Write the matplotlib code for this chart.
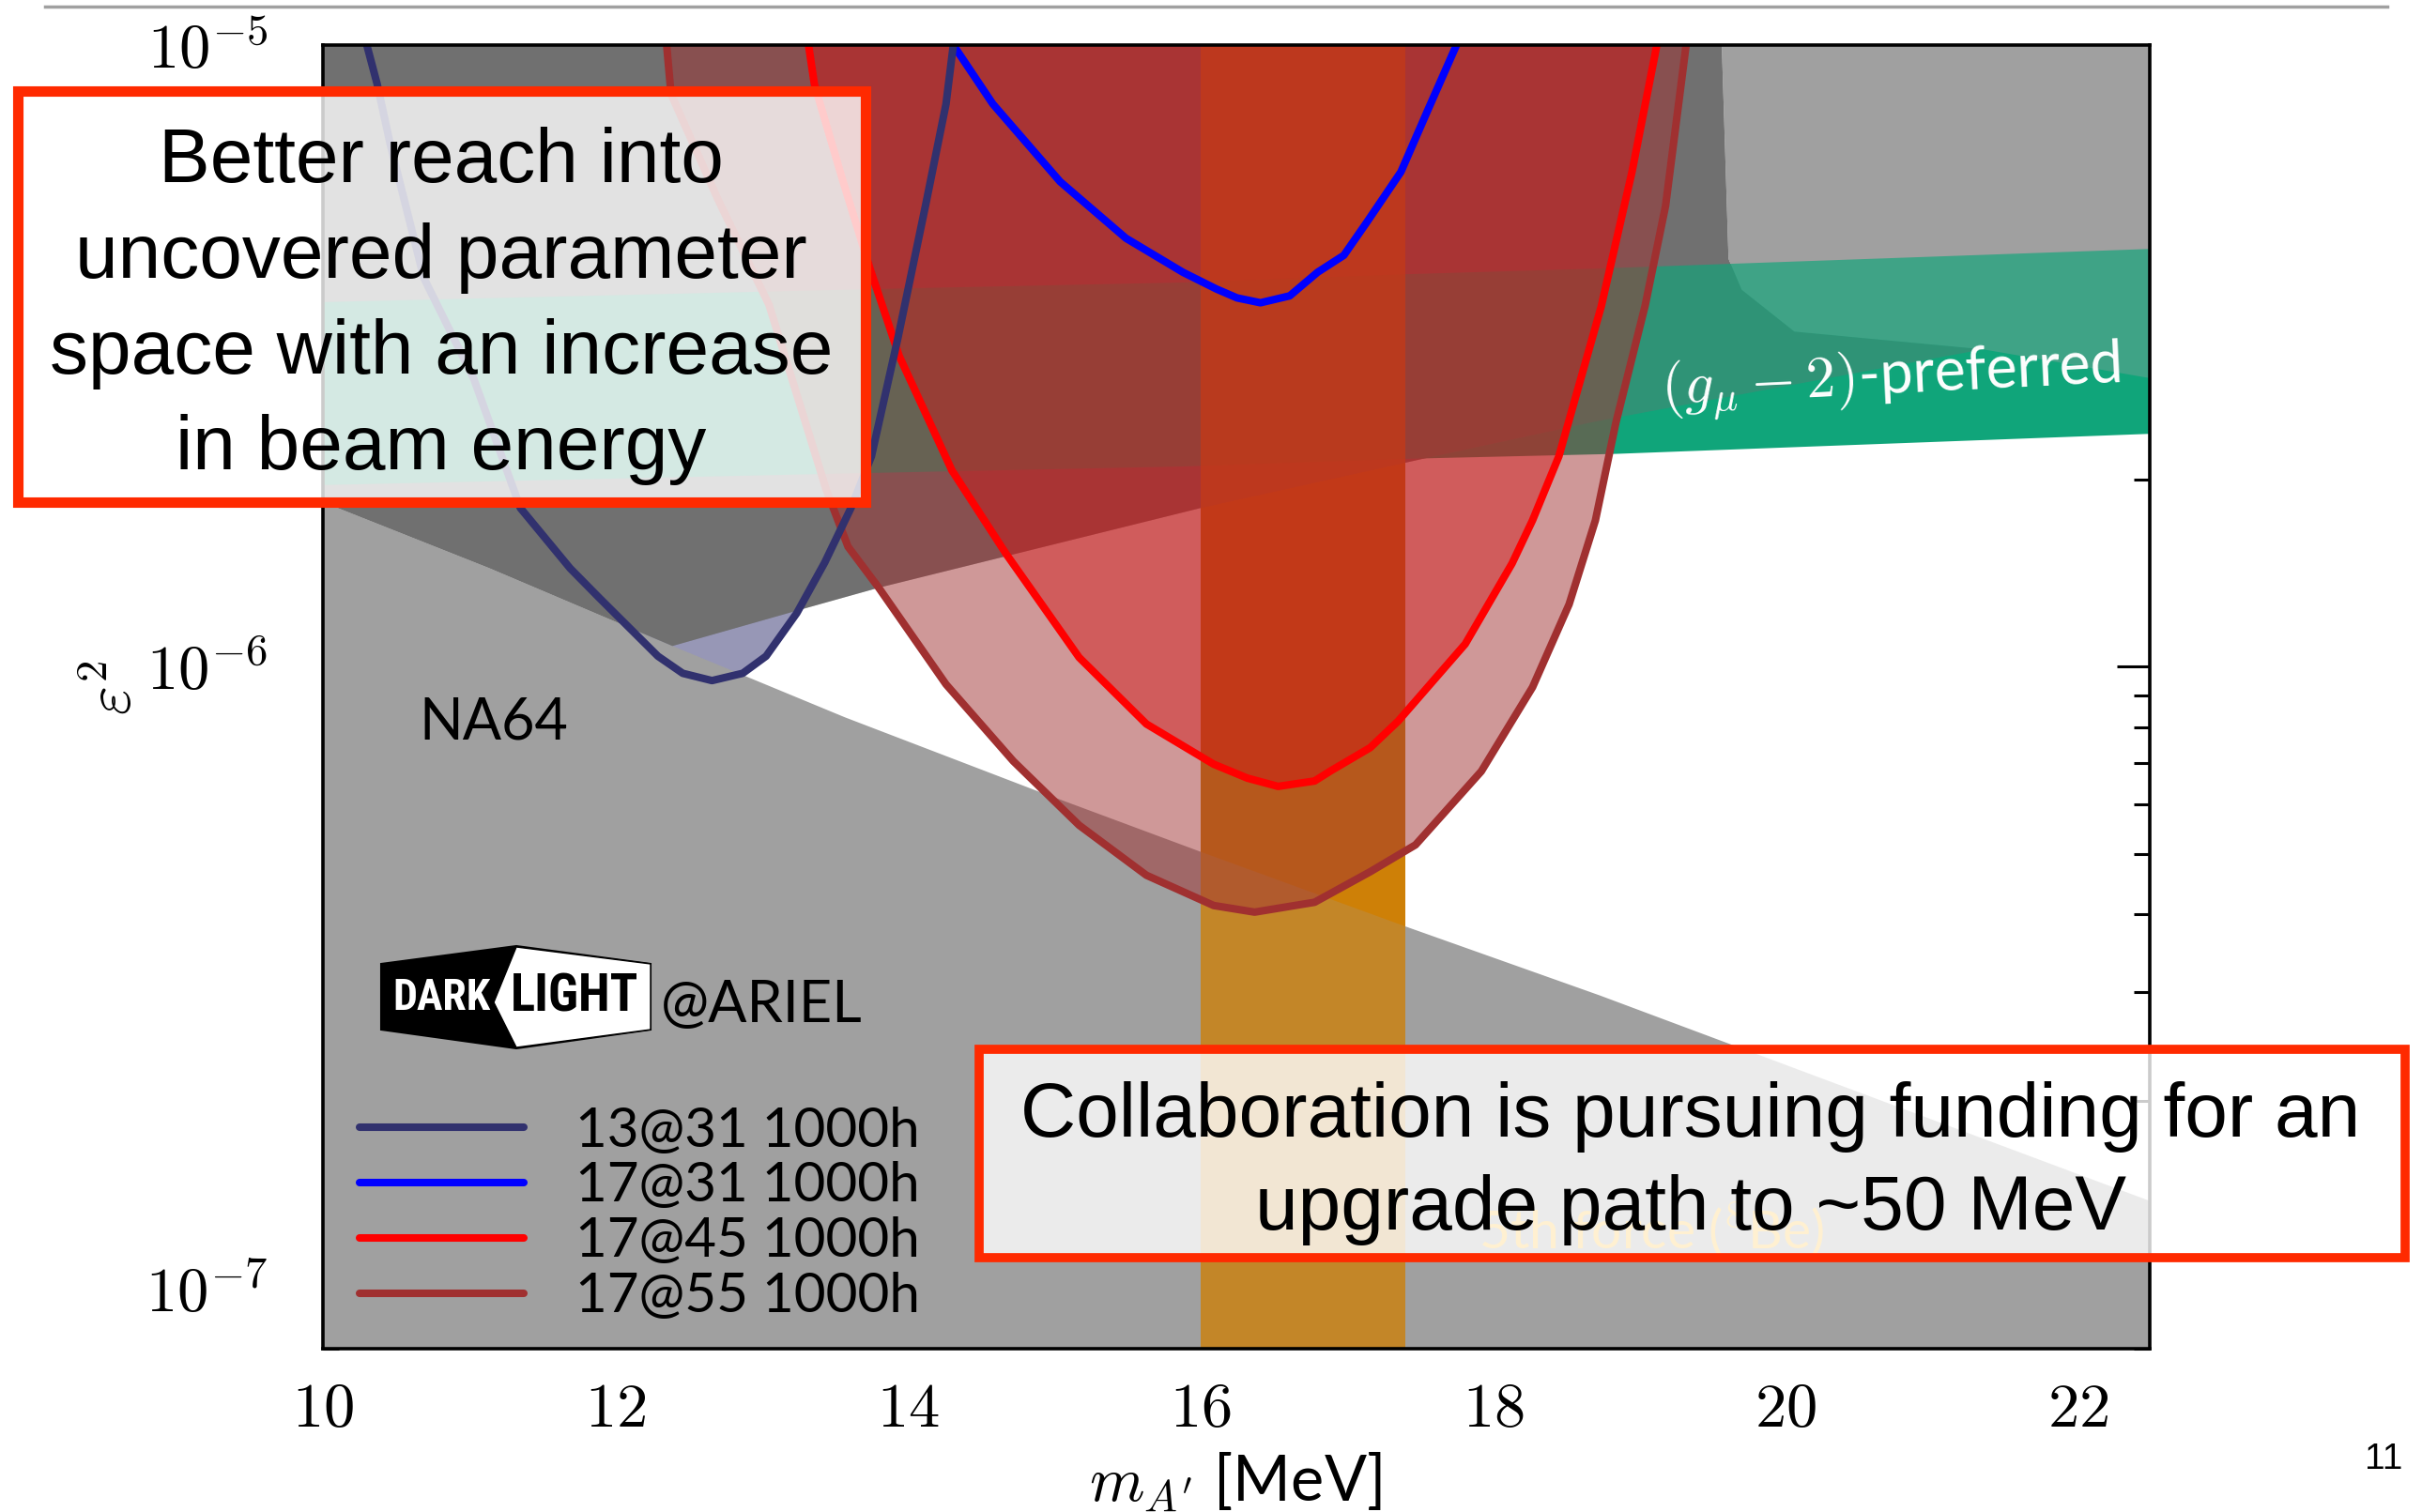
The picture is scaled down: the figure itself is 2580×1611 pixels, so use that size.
# DarkLight @ ARIEL reach plot, eps^2 vs m_A'
import numpy as np
import matplotlib
matplotlib.use('Agg')
import matplotlib.pyplot as plt
from matplotlib import font_manager
from matplotlib.patches import Rectangle, Polygon
from matplotlib.lines import Line2D
from matplotlib.ticker import FixedLocator, LogLocator, FuncFormatter, NullFormatter

plt.rcParams['mathtext.fontset'] = 'cm'
plt.rcParams['font.family'] = ['Lato', 'DejaVu Sans']

# --- reach curves (m_A' in MeV, eps^2)
navy_m = [10.30, 10.37, 10.46, 10.69, 11.03, 11.35, 11.69, 11.89, 12.29, 12.46, 12.66,
          12.87, 13.03, 13.24, 13.43, 13.61, 13.75, 13.93, 14.12, 14.26, 14.31]
navy_e = [1.0e-5, 8.67e-6, 6.93e-6, 4.22e-6, 2.91e-6, 1.80e-6, 1.44e-6, 1.29e-6, 1.04e-6, 9.76e-7,
          9.5e-7, 9.76e-7, 1.04e-6, 1.22e-6, 1.47e-6, 1.80e-6, 2.18e-6, 3.37e-6, 5.52e-6,
          8.04e-6, 1.0e-5]

blue_m = [14.31, 14.58, 15.04, 15.49, 15.88, 16.11, 16.25, 16.41, 16.61, 16.80, 16.98,
          17.14, 17.37, 17.55, 17.75]
blue_e = [1.0e-5, 8.04e-6, 6.03e-6, 4.89e-6, 4.31e-6, 4.05e-6, 3.92e-6, 3.85e-6, 3.95e-6,
          4.31e-6, 4.59e-6, 5.20e-6, 6.25e-6, 7.82e-6, 1.0e-5]

red_m = [13.32, 13.36, 13.55, 13.74, 13.94, 14.30, 14.67, 15.17, 15.63, 16.09, 16.32, 16.53,
         16.78, 16.89, 17.16, 17.35, 17.81, 18.13, 18.27, 18.45, 18.74, 18.95, 19.12]
red_e = [1.0e-5, 8.65e-6, 6.10e-6, 4.37e-6, 3.16e-6, 2.07e-6, 1.52e-6, 1.035e-6, 8.09e-7,
         6.97e-7, 6.62e-7, 6.42e-7, 6.55e-7, 6.80e-7, 7.41e-7, 8.17e-7, 1.088e-6, 1.466e-6,
         1.72e-6, 2.18e-6, 3.80e-6, 6.25e-6, 1.0e-5]

brown_m = [12.35, 12.38, 12.70, 13.05, 13.44, 13.59, 13.80, 14.26, 14.72, 15.17, 15.63, 16.09,
           16.37, 16.78, 17.16, 17.47, 17.92, 18.27, 18.52, 18.70, 18.84, 19.04, 19.18, 19.32]
brown_e = [1.0e-5, 8.34e-6, 5.65e-6, 3.82e-6, 1.93e-6, 1.56e-6, 1.34e-6, 9.37e-7, 7.05e-7,
           5.56e-7, 4.62e-7, 4.13e-7, 4.03e-7, 4.18e-7, 4.68e-7, 5.17e-7, 6.79e-7, 9.27e-7,
           1.26e-6, 1.72e-6, 2.47e-6, 3.81e-6, 5.52e-6, 1.0e-5]

labels = ['13@31 1000h', '17@31 1000h', '17@45 1000h', '17@55 1000h']

# --- existing limits
na64_m = [10.0, 11.14, 12.39, 13.57, 14.90, 16.00, 17.39, 18.73, 22.5]
na64_e = [1.84e-6, 1.44e-6, 1.08e-6, 8.29e-7, 6.29e-7, 5.04e-7, 3.83e-7, 2.96e-7, 1.38e-7]

dark_m = [10.0, 19.54, 19.61, 19.70, 20.06, 21.35, 18.70, 17.52, 16.00, 13.80, 13.235,
          12.39, 11.14, 10.0]
dark_e = [1.5e-5, 1.5e-5, 4.53e-6, 4.04e-6, 3.46e-6, 3.24e-6, 2.48e-6, 2.16e-6, 1.80e-6,
          1.34e-6, 1.23e-6, 1.08e-6, 1.44e-6, 1.84e-6]

light_m = [19.54, 22.5, 22.5, 21.35, 20.06, 19.70, 19.61]
light_e = [1.5e-5, 1.5e-5, 2.91e-6, 3.24e-6, 3.46e-6, 4.04e-6, 4.53e-6]

g2_top_m = [10.0, 13.75, 15.88, 17.42, 18.71, 22.5]
g2_top_e = [3.86e-6, 4.05e-6, 4.15e-6, 4.28e-6, 4.37e-6, 4.70e-6]
g2_bot_m = [10.0, 13.75, 15.88, 17.40, 18.84, 22.5]
g2_bot_e = [1.96e-6, 2.05e-6, 2.10e-6, 2.16e-6, 2.20e-6, 2.37e-6]

x17_lo, x17_hi = 16.0, 17.4

W, H = 2580, 1611
def fxy(X, Y):
    return X / W, 1 - Y / H

fig = plt.figure(figsize=(W / 100, H / 100), dpi=100)
ax = fig.add_axes([344 / W, 1 - 1437 / H, 1946 / W, 1389 / H])
ax.set_yscale('log')
ax.set_xlim(10, 22.49)
ax.set_ylim(8e-8, 1e-5)

c_navy, c_blue, c_red, c_brown = '#31316e', '#0000ff', '#ff0000', '#a03030'

ax.fill(navy_m, navy_e, color=c_navy, alpha=0.5, lw=0, zorder=1)
ax.axvspan(x17_lo, x17_hi, color='#d48200', lw=0, zorder=1.5)

na_x = na64_m + [22.5, 10.0]
na_y = na64_e + [1e-8, 1e-8]
ax.fill(na_x, na_y, color='#a0a0a0', lw=0, zorder=2)
ax.fill(dark_m, dark_e, color='#707070', lw=0, zorder=2)
ax.fill(light_m, light_e, color='#a0a0a0', lw=0, zorder=2)

ax.fill(g2_top_m + g2_bot_m[::-1], g2_top_e + g2_bot_e[::-1], color='#10a57a', lw=0, zorder=3)
ax.fill(dark_m, dark_e, color='#707070', alpha=0.33, lw=0, zorder=4)
ax.fill(light_m, light_e, color='#a0a0a0', alpha=0.33, lw=0, zorder=4)

ax.axvspan(x17_lo, x17_hi, color=(205 / 255, 128 / 255, 10 / 255), alpha=0.8, lw=0, zorder=5)

ax.fill(brown_m, brown_e, color=(160 / 255, 50 / 255, 50 / 255), alpha=0.5, lw=0, zorder=6)
ax.fill(red_m, red_e, color=(210 / 255, 20 / 255, 20 / 255), alpha=0.45, lw=0, zorder=7)

lw = 5.8
l1, = ax.plot(navy_m, navy_e, color=c_navy, lw=lw, zorder=9, solid_capstyle='round')
l2, = ax.plot(blue_m, blue_e, color=c_blue, lw=lw, zorder=8, solid_capstyle='round')
l3, = ax.plot(red_m, red_e, color=c_red, lw=lw, zorder=8, solid_capstyle='round')
l4, = ax.plot(brown_m, brown_e, color=c_brown, lw=lw, zorder=8, solid_capstyle='round')

ax.legend([l1, l2, l3, l4], labels, loc='upper left', bbox_to_anchor=(0.02, 0.186),
          frameon=False, fontsize=42, handlelength=3.0, handletextpad=0.94,
          labelspacing=0.10, borderpad=0, borderaxespad=0)

ax.text(20.72, 2.89e-6, r'$(g_\mu - 2)$-preferred', color='white', fontsize=45,
        rotation=2.8, ha='center', va='center', zorder=10)
ax.text(10.66, 8.12e-7, 'NA64', fontsize=44, ha='left', va='center', zorder=10)
ax.text(12.31, 2.85e-7, '@ARIEL', fontsize=44, ha='left', va='center', zorder=10)
ax.text(19.08, 1.245e-7, r'5th force ($^8$Be)', color='#ffb81c', fontsize=41,
        ha='center', va='center', zorder=10)

# axes styling
ax.xaxis.set_major_locator(FixedLocator([10, 12, 14, 16, 18, 20, 22]))
ax.xaxis.set_major_formatter(FuncFormatter(lambda v, p: r'$%d$' % v))
ax.yaxis.set_major_locator(LogLocator(base=10))
ax.yaxis.set_minor_locator(LogLocator(base=10, subs=np.arange(2, 10)))
ax.yaxis.set_major_formatter(FuncFormatter(lambda v, p: r'$10^{%d}$' % round(np.log10(v))))
ax.yaxis.set_minor_formatter(NullFormatter())
ax.tick_params(which='both', direction='in', top=True, right=True, width=2.2)
ax.tick_params(which='major', length=25, labelsize=48)
ax.tick_params(axis='x', which='major', pad=24)
ax.tick_params(axis='y', which='major', pad=42)
ax.tick_params(which='minor', length=12)
for s in ax.spines.values():
    s.set_linewidth(2.6)
    s.set_zorder(12)

ax.set_xlabel(r"$m_{A'}$ [MeV]", fontsize=48)
ax.xaxis.set_label_coords(0.4995, -0.078)
ax.set_ylabel(r'$\varepsilon^2$', fontsize=48)
ax.yaxis.set_label_coords(-0.099, 0.507)

# DarkLight logo
names = {f.name for f in font_manager.fontManager.ttflist}
logo_font = next((n for n in ['Liberation Sans Narrow', 'Roboto Condensed', 'DejaVu Sans']
                  if n in names), 'DejaVu Sans')
outer = [fxy(*p) for p in [(406, 1027), (550, 1008), (693, 1027), (693, 1097), (550, 1117), (406, 1097)]]
inner = [fxy(*p) for p in [(550, 1009), (693, 1027), (693, 1097), (550, 1116), (526, 1068)]]
fig.add_artist(Polygon(outer, closed=True, transform=fig.transFigure, fc='black', ec='black', lw=1.5, zorder=5))
fig.add_artist(Polygon(inner, closed=True, transform=fig.transFigure, fc='white', ec='black', lw=1.0, zorder=5))
t_dark = fig.text(*fxy(470, 1063), 'DARK', color='white', fontsize=30, fontweight='bold',
                  family=logo_font, fontstretch='condensed', ha='center', va='center', zorder=6)
t_light = fig.text(*fxy(612, 1063), 'LIGHT', color='black', fontsize=30, fontweight='bold',
                   family=logo_font, fontstretch='condensed', ha='center', va='center', zorder=6)
fig.canvas.draw()
rend = fig.canvas.get_renderer()
for t, w in [(t_dark, 104), (t_light, 136)]:
    bb = t.get_window_extent(rend)
    t.set_fontsize(min(40, t.get_fontsize() * w / bb.width))

# slide decorations
fig.add_artist(Line2D([48 / W, 2543 / W], [1 - 7 / H] * 2, transform=fig.transFigure,
                      color='#a0a0a0', lw=2.5))
fig.text(*fxy(2539, 1555), '11', fontsize=28, family='Liberation Sans', ha='center', va='center')

box_red = '#ff2a00'
fig.add_artist(Rectangle(fxy(18.5, 535), (922 - 18.5) / W, (535 - 97.5) / H, transform=fig.transFigure,
                         fc=(1, 1, 1, 0.8), ec=box_red, lw=8, zorder=20))
fig.add_artist(Rectangle(fxy(1043, 1340), (2562 - 1043) / W, (1340 - 1118) / H, transform=fig.transFigure,
                         fc=(1, 1, 1, 0.8), ec=box_red, lw=7, zorder=20))

box1 = ['Better reach into', 'uncovered parameter', 'space with an increase', 'in beam energy']
for i, s in enumerate(box1):
    fig.text(*fxy(470, 194 + 102 * i), s, fontsize=59, family='Liberation Sans',
             ha='center', va='baseline', zorder=21)
box2 = ['Collaboration is pursuing funding for an', 'upgrade path to ~50 MeV']
for i, s in enumerate(box2):
    fig.text(*fxy(1801, 1211 + 99 * i), s, fontsize=59, family='Liberation Sans',
             ha='center', va='baseline', zorder=21)

fig.savefig('out.png', dpi=100)
